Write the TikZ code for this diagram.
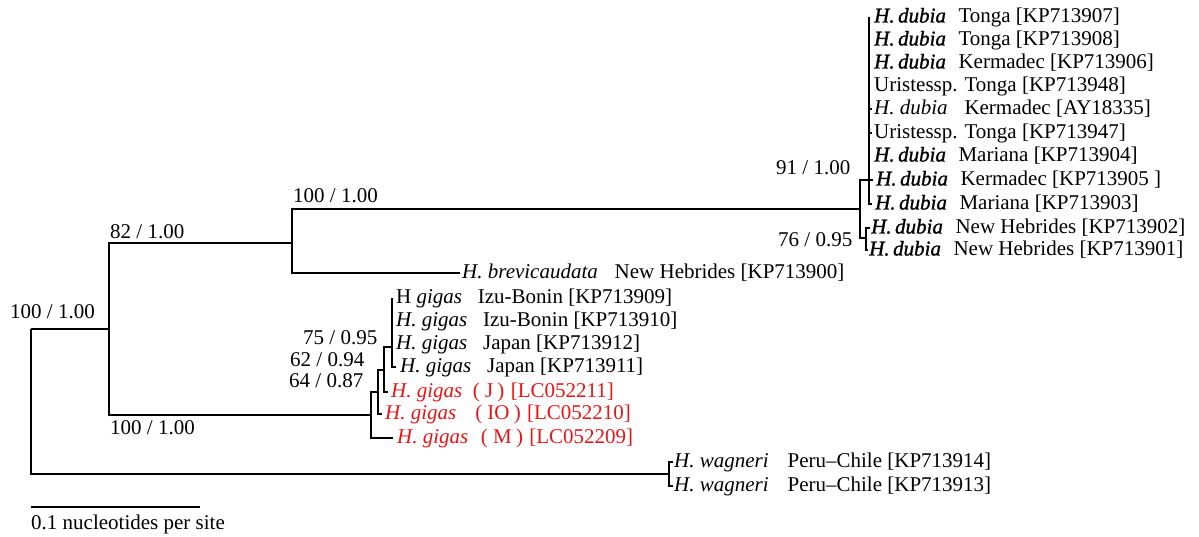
\documentclass[tikz,border=0pt]{standalone}
\usepackage{fontspec}
\setmainfont{Liberation Serif}
\newfontface\dubface{Liberation Serif Italic}[FakeBold=1.2]
\definecolor{gigasred}{RGB}{228,22,22}
\newcommand{\Hdub}{{\dubface H.\,dubia}}
\newcommand{\sgap}{\hspace{0.6em}}
\begin{document}
\begin{tikzpicture}[x=1pt,y=-1pt,
  br/.style={line width=1.9pt},
  tipline/.style={line width=1.6pt},
  lab/.style={anchor=west,inner sep=0pt,font=\fontsize{21}{24}\selectfont,
              text height=15pt,text depth=4pt},
  redlab/.style={lab,text=gigasred},
  sup/.style={lab}]
\useasboundingbox (0,0) rectangle (1199,537);

% ---- internal nodes of the tree ----
\coordinate (root) at (31,329);
\coordinate (nA)   at (109,329);
\coordinate (nB)   at (292,243);
\coordinate (nD)   at (860,209);
\coordinate (n91)  at (869,180);
\coordinate (n76)  at (866,238);
\coordinate (nG)   at (371,415);
\coordinate (n64)  at (378,392);
\coordinate (n62)  at (384,370);
\coordinate (n75)  at (392,347);
\coordinate (nW)   at (669,474);

% ---- leaf tips ----
\coordinate (d1)  at (869,17);
\coordinate (d2)  at (869,40);
\coordinate (d3)  at (869,63);
\coordinate (d4)  at (869,86);
\coordinate (d5)  at (872,109);
\coordinate (d6)  at (872,133);
\coordinate (d7)  at (869,156);
\coordinate (d8)  at (873,180);
\coordinate (d9)  at (872,204);
\coordinate (d10) at (870,228);
\coordinate (d11) at (868,250);
\coordinate (tb)  at (460,273);
\coordinate (g1)  at (392,298);
\coordinate (g2)  at (392,321);
\coordinate (g3)  at (392,344);
\coordinate (g4)  at (396,367);
\coordinate (gJ)  at (388,392);
\coordinate (gIO) at (382,414);
\coordinate (gM)  at (393,438);
\coordinate (w1)  at (673,462);
\coordinate (w2)  at (673,486);

% ---- branches ----
\draw[br] (root) |- (nA);
\draw[br] (root) |- (nW);
\draw[br] (nA) |- (nB);
\draw[br] (nA) |- (nG);
\draw[br] (nB) |- (nD);
\draw[br] (nB) |- (tb);
\draw[br] (nD) |- (n91);
\draw[br] (nD) |- (n76);
\foreach \t in {d1,d2,d3,d4,d5,d6,d7,d8,d9} \draw[tipline] (n91) |- (\t);
\foreach \t in {d10,d11} \draw[tipline] (n76) |- (\t);
\draw[br] (nG) |- (gM);
\draw[br] (nG) |- (n64);
\draw[br] (n64) |- (gIO);
\draw[br] (n64) |- (n62);
\draw[br] (n62) |- (gJ);
\draw[br] (n62) |- (n75);
\foreach \t in {g1,g2,g3,g4} \draw[tipline] (n75) |- (\t);
\foreach \t in {w1,w2} \draw[tipline] (nW) |- (\t);

% ---- leaf labels ----
\node[lab] (Ld1)  at (874,17)  {\Hdub\sgap Tonga [KP713907]};
\node[lab] (Ld2)  at (874,40)  {\Hdub\sgap Tonga [KP713908]};
\node[lab] (Ld3)  at (874,63)  {\Hdub\sgap Kermadec [KP713906]};
\node[lab] (Ld4)  at (874,86)  {Uristessp. Tonga [KP713948]};
\node[lab] (Ld5)  at (874,109) {\textit{H.\ dubia}\hspace{0.8em}Kermadec [AY18335]};
\node[lab] (Ld6)  at (874,133) {Uristessp. Tonga [KP713947]};
\node[lab] (Ld7)  at (874,156) {\Hdub\sgap Mariana [KP713904]};
\node[lab] (Ld8)  at (876,180) {\Hdub\sgap Kermadec [KP713905 ]};
\node[lab] (Ld9)  at (875,204) {\Hdub\sgap Mariana [KP713903]};
\node[lab] (Ld10) at (871,228) {\Hdub\sgap New Hebrides [KP713902]};
\node[lab] (Ld11) at (869,250) {\Hdub\sgap New Hebrides [KP713901]};
\node[lab] (Ltb)  at (462,273) {\textit{H. brevicaudata}\hspace{0.8em}New Hebrides [KP713900]};
\node[lab] (Lg1)  at (396,298) {H \textit{gigas}\hspace{0.75em}Izu-Bonin [KP713909]};
\node[lab] (Lg2)  at (396,321) {\textit{H. gigas}\hspace{0.75em}Izu-Bonin [KP713910]};
\node[lab] (Lg3)  at (396,344) {\textit{H. gigas}\hspace{0.75em}Japan [KP713912]};
\node[lab] (Lg4)  at (400,367) {\textit{H. gigas}\hspace{0.75em}Japan [KP713911]};
\node[redlab] (LgJ)  at (391,392) {\textit{H. gigas}\hspace{0.5em}(\hspace{0.25em}J\hspace{0.2em})\hspace{0.3em}[LC052211]};
\node[redlab] (LgIO) at (385,414) {\textit{H. gigas}\hspace{0.9em}(\hspace{0.25em}IO\hspace{0.2em})\hspace{0.3em}[LC052210]};
\node[redlab] (LgM)  at (397,438) {\textit{H. gigas}\hspace{0.6em}(\hspace{0.25em}M\hspace{0.2em})\hspace{0.3em}[LC052209]};
\node[lab] (Lw1)  at (674,462) {\textit{H. wagneri}\hspace{0.9em}Peru–Chile [KP713914]};
\node[lab] (Lw2)  at (674,486) {\textit{H. wagneri}\hspace{0.9em}Peru–Chile [KP713913]};

% ---- support values ----
\node[sup] (sRoot) at (10,313)  {100 / 1.00};
\node[sup] (sA)    at (110,233) {82 / 1.00};
\node[sup] (sB)    at (293,197) {100 / 1.00};
\node[sup] (sG)    at (110,429) {100 / 1.00};
\node[sup] (s91)   at (776,169) {91 / 1.00};
\node[sup] (s76)   at (778,241) {76 / 0.95};
\node[sup] (s75)   at (303,339) {75 / 0.95};
\node[sup] (s62)   at (290,361) {62 / 0.94};
\node[sup] (s64)   at (289,382) {64 / 0.87};

% ---- scale bar ----
\coordinate (sbL) at (31,507);
\coordinate (sbR) at (200,507);
\draw[br] (sbL) -- (sbR);
\node[lab] (sbT) at (31,524) {0.1 nucleotides per site};
\end{tikzpicture}
\end{document}
